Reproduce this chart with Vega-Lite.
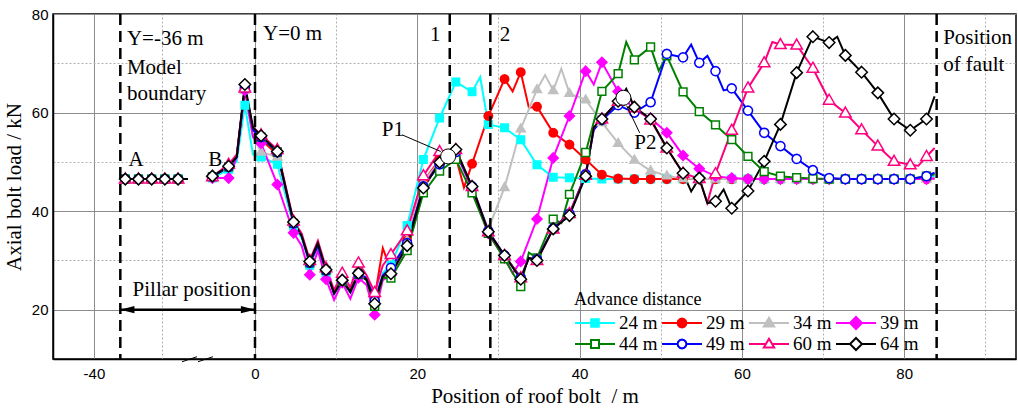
{
"$schema":"https://vega.github.io/schema/vega-lite/v6.json",
"width":963,"height":345,
"autosize":{"type":"none"},
"padding":{"left":53,"top":14,"right":2,"bottom":49},
"background":"white",
"config":{
 "view":{"stroke":"black","strokeWidth":1.5},
 "axis":{"labelFont":"Liberation Sans","labelFontSize":15,"labelColor":"black","titleFont":"Liberation Serif","titleFontSize":21,"titleFontWeight":"normal","titleColor":"black","domainColor":"black","domainWidth":1.5,"tickColor":"black","gridColor":"#8c8c8c","gridWidth":1,"gridOpacity":1},
 "text":{"font":"Liberation Serif","fontSize":21,"color":"black"}
},
"datasets":{"d":[
{"s":"24 m","x":-35.75,"y":46.5},{"s":"24 m","x":-35.25,"y":46.5},{"s":"24 m","x":-33.25,"y":46.5},{"s":"24 m","x":-31.25,"y":46.5},{"s":"24 m","x":-29.25,"y":46.5},{"s":"24 m","x":-27.25,"y":46.5},{"s":"24 m","x":-25.75,"y":46.5},
{"s":"24 m","x":-5.25,"y":46.7},{"s":"24 m","x":-3.25,"y":48.5},{"s":"24 m","x":-2.25,"y":50},{"s":"24 m","x":-1.25,"y":61.5},{"s":"24 m","x":-0.25,"y":51.5},{"s":"24 m","x":0.75,"y":51},{"s":"24 m","x":2.75,"y":49.5},{"s":"24 m","x":4.75,"y":37},{"s":"24 m","x":5.75,"y":34.5},{"s":"24 m","x":6.75,"y":29},{"s":"24 m","x":7.75,"y":33},{"s":"24 m","x":8.75,"y":27.5},{"s":"24 m","x":9.75,"y":23.5},{"s":"24 m","x":10.75,"y":26},{"s":"24 m","x":11.75,"y":24},{"s":"24 m","x":12.75,"y":27},{"s":"24 m","x":13.75,"y":26},{"s":"24 m","x":14.75,"y":21.5},{"s":"24 m","x":15.75,"y":27.5},{"s":"24 m","x":16.75,"y":29},{"s":"24 m","x":18.75,"y":37.1},{"s":"24 m","x":20.75,"y":50.5},{"s":"24 m","x":22.75,"y":58.9},{"s":"24 m","x":24.75,"y":66.2},{"s":"24 m","x":26.75,"y":64.2},{"s":"24 m","x":27.75,"y":67.2},{"s":"24 m","x":28.75,"y":57.6},{"s":"24 m","x":30.75,"y":56.9},{"s":"24 m","x":32.75,"y":54.5},{"s":"24 m","x":34.75,"y":49.4},{"s":"24 m","x":36.75,"y":46.9},{"s":"24 m","x":38.75,"y":46.8},{"s":"24 m","x":40.75,"y":46.6},{"s":"24 m","x":42.75,"y":46.5},{"s":"24 m","x":44.75,"y":46.5},{"s":"24 m","x":46.75,"y":46.5},{"s":"24 m","x":48.75,"y":46.5},{"s":"24 m","x":50.75,"y":46.5},{"s":"24 m","x":52.75,"y":46.5},{"s":"24 m","x":54.75,"y":46.5},{"s":"24 m","x":56.75,"y":46.5},{"s":"24 m","x":58.75,"y":46.5},{"s":"24 m","x":60.75,"y":46.5},{"s":"24 m","x":62.75,"y":46.5},{"s":"24 m","x":64.75,"y":46.5},{"s":"24 m","x":66.75,"y":46.5},{"s":"24 m","x":68.75,"y":46.5},{"s":"24 m","x":70.75,"y":46.5},{"s":"24 m","x":72.75,"y":46.5},{"s":"24 m","x":74.75,"y":46.5},{"s":"24 m","x":76.75,"y":46.5},{"s":"24 m","x":78.75,"y":46.5},{"s":"24 m","x":80.75,"y":46.5},{"s":"24 m","x":82.75,"y":46.9},{"s":"24 m","x":83.75,"y":47.2},
{"s":"29 m","x":-35.75,"y":46.5},{"s":"29 m","x":-35.25,"y":46.5},{"s":"29 m","x":-33.25,"y":46.5},{"s":"29 m","x":-31.25,"y":46.5},{"s":"29 m","x":-29.25,"y":46.5},{"s":"29 m","x":-27.25,"y":46.5},{"s":"29 m","x":-25.75,"y":46.5},
{"s":"29 m","x":-5.25,"y":47},{"s":"29 m","x":-3.25,"y":49},{"s":"29 m","x":-2.25,"y":51},{"s":"29 m","x":-1.25,"y":65},{"s":"29 m","x":-0.25,"y":56.5},{"s":"29 m","x":0.75,"y":54.5},{"s":"29 m","x":2.75,"y":51.5},{"s":"29 m","x":4.75,"y":37.5},{"s":"29 m","x":5.75,"y":35},{"s":"29 m","x":6.75,"y":29.5},{"s":"29 m","x":7.75,"y":33.5},{"s":"29 m","x":8.75,"y":28},{"s":"29 m","x":9.75,"y":23.5},{"s":"29 m","x":10.75,"y":26.5},{"s":"29 m","x":11.75,"y":24},{"s":"29 m","x":12.75,"y":27.5},{"s":"29 m","x":13.75,"y":26},{"s":"29 m","x":14.75,"y":22.5},{"s":"29 m","x":15.75,"y":32.5},{"s":"29 m","x":16.75,"y":28},{"s":"29 m","x":18.75,"y":34},{"s":"29 m","x":20.75,"y":46},{"s":"29 m","x":22.75,"y":50.5},{"s":"29 m","x":24.75,"y":51},{"s":"29 m","x":25.75,"y":44.8},{"s":"29 m","x":26.75,"y":49.6},{"s":"29 m","x":28.75,"y":59.3},{"s":"29 m","x":30.75,"y":66.8},{"s":"29 m","x":31.75,"y":64.3},{"s":"29 m","x":32.75,"y":68.2},{"s":"29 m","x":33.75,"y":61},{"s":"29 m","x":34.75,"y":61.2},{"s":"29 m","x":36.75,"y":55.9},{"s":"29 m","x":38.75,"y":53.5},{"s":"29 m","x":40.75,"y":50.5},{"s":"29 m","x":42.75,"y":47.4},{"s":"29 m","x":44.75,"y":46.6},{"s":"29 m","x":46.75,"y":46.5},{"s":"29 m","x":48.75,"y":46.5},{"s":"29 m","x":50.75,"y":46.5},{"s":"29 m","x":52.75,"y":46.5},{"s":"29 m","x":54.75,"y":46.5},{"s":"29 m","x":56.75,"y":46.5},{"s":"29 m","x":58.75,"y":46.5},{"s":"29 m","x":60.75,"y":46.5},{"s":"29 m","x":62.75,"y":46.5},{"s":"29 m","x":64.75,"y":46.5},{"s":"29 m","x":66.75,"y":46.5},{"s":"29 m","x":68.75,"y":46.5},{"s":"29 m","x":70.75,"y":46.5},{"s":"29 m","x":72.75,"y":46.5},{"s":"29 m","x":74.75,"y":46.5},{"s":"29 m","x":76.75,"y":46.5},{"s":"29 m","x":78.75,"y":46.5},{"s":"29 m","x":80.75,"y":46.5},{"s":"29 m","x":82.75,"y":46.5},{"s":"29 m","x":83.75,"y":46.6},
{"s":"34 m","x":-35.75,"y":46.5},{"s":"34 m","x":-35.25,"y":46.5},{"s":"34 m","x":-33.25,"y":46.5},{"s":"34 m","x":-31.25,"y":46.5},{"s":"34 m","x":-29.25,"y":46.5},{"s":"34 m","x":-27.25,"y":46.5},{"s":"34 m","x":-25.75,"y":46.5},
{"s":"34 m","x":-5.25,"y":47},{"s":"34 m","x":-3.25,"y":49},{"s":"34 m","x":-2.25,"y":51},{"s":"34 m","x":-1.25,"y":64.5},{"s":"34 m","x":-0.25,"y":55},{"s":"34 m","x":0.75,"y":52},{"s":"34 m","x":2.75,"y":51},{"s":"34 m","x":4.75,"y":37.5},{"s":"34 m","x":5.75,"y":35},{"s":"34 m","x":6.75,"y":29.5},{"s":"34 m","x":7.75,"y":33},{"s":"34 m","x":8.75,"y":28},{"s":"34 m","x":9.75,"y":23.5},{"s":"34 m","x":10.75,"y":26},{"s":"34 m","x":11.75,"y":24},{"s":"34 m","x":12.75,"y":27.5},{"s":"34 m","x":13.75,"y":26},{"s":"34 m","x":14.75,"y":21.5},{"s":"34 m","x":15.75,"y":27},{"s":"34 m","x":16.75,"y":28},{"s":"34 m","x":18.75,"y":34},{"s":"34 m","x":20.75,"y":46},{"s":"34 m","x":22.75,"y":50},{"s":"34 m","x":24.75,"y":52},{"s":"34 m","x":26.75,"y":45},{"s":"34 m","x":28.75,"y":36.3},{"s":"34 m","x":30.75,"y":44.8},{"s":"34 m","x":32.75,"y":56.7},{"s":"34 m","x":34.75,"y":64.7},{"s":"34 m","x":35.75,"y":67.6},{"s":"34 m","x":36.75,"y":64.5},{"s":"34 m","x":37.75,"y":68.9},{"s":"34 m","x":38.75,"y":63.9},{"s":"34 m","x":40.75,"y":62.6},{"s":"34 m","x":42.75,"y":58},{"s":"34 m","x":44.75,"y":53.8},{"s":"34 m","x":46.75,"y":50.4},{"s":"34 m","x":48.75,"y":48.2},{"s":"34 m","x":50.75,"y":47.2},{"s":"34 m","x":52.75,"y":46.6},{"s":"34 m","x":54.75,"y":46.5},{"s":"34 m","x":56.75,"y":46.5},{"s":"34 m","x":58.75,"y":46.5},{"s":"34 m","x":60.75,"y":46.5},{"s":"34 m","x":62.75,"y":46.5},{"s":"34 m","x":64.75,"y":46.5},{"s":"34 m","x":66.75,"y":46.5},{"s":"34 m","x":68.75,"y":46.5},{"s":"34 m","x":70.75,"y":46.5},{"s":"34 m","x":72.75,"y":46.5},{"s":"34 m","x":74.75,"y":46.5},{"s":"34 m","x":76.75,"y":46.5},{"s":"34 m","x":78.75,"y":46.5},{"s":"34 m","x":80.75,"y":46.5},{"s":"34 m","x":82.75,"y":46.5},{"s":"34 m","x":83.75,"y":46.6},
{"s":"39 m","x":-35.75,"y":46.5},{"s":"39 m","x":-35.25,"y":46.5},{"s":"39 m","x":-33.25,"y":46.5},{"s":"39 m","x":-31.25,"y":46.5},{"s":"39 m","x":-29.25,"y":46.5},{"s":"39 m","x":-27.25,"y":46.5},{"s":"39 m","x":-25.75,"y":46.5},
{"s":"39 m","x":-5.25,"y":46.7},{"s":"39 m","x":-3.25,"y":46.7},{"s":"39 m","x":-2.25,"y":51},{"s":"39 m","x":-1.25,"y":64.5},{"s":"39 m","x":-0.25,"y":55},{"s":"39 m","x":0.75,"y":53.8},{"s":"39 m","x":2.75,"y":45.4},{"s":"39 m","x":4.75,"y":35.6},{"s":"39 m","x":5.75,"y":33},{"s":"39 m","x":6.75,"y":27.1},{"s":"39 m","x":7.75,"y":32},{"s":"39 m","x":8.75,"y":26.2},{"s":"39 m","x":9.75,"y":22},{"s":"39 m","x":10.75,"y":25.5},{"s":"39 m","x":11.75,"y":22.2},{"s":"39 m","x":12.75,"y":26.5},{"s":"39 m","x":13.75,"y":25},{"s":"39 m","x":14.75,"y":19},{"s":"39 m","x":15.75,"y":26},{"s":"39 m","x":16.75,"y":27},{"s":"39 m","x":18.75,"y":33},{"s":"39 m","x":20.75,"y":45},{"s":"39 m","x":22.75,"y":50},{"s":"39 m","x":24.75,"y":52},{"s":"39 m","x":26.75,"y":44.5},{"s":"39 m","x":28.75,"y":35.5},{"s":"39 m","x":30.75,"y":30.5},{"s":"39 m","x":31.75,"y":27.4},{"s":"39 m","x":32.75,"y":29.8},{"s":"39 m","x":34.75,"y":38.4},{"s":"39 m","x":36.75,"y":50.8},{"s":"39 m","x":38.75,"y":59.3},{"s":"39 m","x":40.75,"y":68.4},{"s":"39 m","x":41.75,"y":65.7},{"s":"39 m","x":42.75,"y":70.2},{"s":"39 m","x":44.75,"y":64.3},{"s":"39 m","x":46.75,"y":60.6},{"s":"39 m","x":48.75,"y":58.9},{"s":"39 m","x":50.75,"y":55.9},{"s":"39 m","x":52.75,"y":51.3},{"s":"39 m","x":54.75,"y":48.6},{"s":"39 m","x":56.75,"y":47.1},{"s":"39 m","x":58.75,"y":46.7},{"s":"39 m","x":60.75,"y":46.5},{"s":"39 m","x":62.75,"y":46.5},{"s":"39 m","x":64.75,"y":46.5},{"s":"39 m","x":66.75,"y":46.5},{"s":"39 m","x":68.75,"y":46.5},{"s":"39 m","x":70.75,"y":46.5},{"s":"39 m","x":72.75,"y":46.5},{"s":"39 m","x":74.75,"y":46.5},{"s":"39 m","x":76.75,"y":46.5},{"s":"39 m","x":78.75,"y":46.5},{"s":"39 m","x":80.75,"y":46.5},{"s":"39 m","x":82.75,"y":46.5},{"s":"39 m","x":83.75,"y":46.6},
{"s":"44 m","x":-35.75,"y":46.5},{"s":"44 m","x":-35.25,"y":46.5},{"s":"44 m","x":-33.25,"y":46.5},{"s":"44 m","x":-31.25,"y":46.5},{"s":"44 m","x":-29.25,"y":46.5},{"s":"44 m","x":-27.25,"y":46.5},{"s":"44 m","x":-25.75,"y":46.5},
{"s":"44 m","x":-5.25,"y":47},{"s":"44 m","x":-3.25,"y":49},{"s":"44 m","x":-2.25,"y":51},{"s":"44 m","x":-1.25,"y":65},{"s":"44 m","x":-0.25,"y":56.5},{"s":"44 m","x":0.75,"y":55},{"s":"44 m","x":2.75,"y":52},{"s":"44 m","x":4.75,"y":37.5},{"s":"44 m","x":5.75,"y":35},{"s":"44 m","x":6.75,"y":29.5},{"s":"44 m","x":7.75,"y":33},{"s":"44 m","x":8.75,"y":28},{"s":"44 m","x":9.75,"y":23.2},{"s":"44 m","x":10.75,"y":25.8},{"s":"44 m","x":11.75,"y":23.5},{"s":"44 m","x":12.75,"y":27.2},{"s":"44 m","x":13.75,"y":26},{"s":"44 m","x":14.75,"y":20.7},{"s":"44 m","x":15.75,"y":26.5},{"s":"44 m","x":16.75,"y":26.4},{"s":"44 m","x":18.75,"y":32},{"s":"44 m","x":20.75,"y":43.7},{"s":"44 m","x":22.75,"y":48.1},{"s":"44 m","x":24.75,"y":50.5},{"s":"44 m","x":26.75,"y":43.7},{"s":"44 m","x":28.75,"y":35.5},{"s":"44 m","x":30.75,"y":30.3},{"s":"44 m","x":32.75,"y":24.7},{"s":"44 m","x":33.75,"y":31.6},{"s":"44 m","x":34.75,"y":30.5},{"s":"44 m","x":36.75,"y":38.4},{"s":"44 m","x":37.75,"y":37.6},{"s":"44 m","x":38.75,"y":43.4},{"s":"44 m","x":40.75,"y":51.9},{"s":"44 m","x":42.75,"y":64.3},{"s":"44 m","x":44.75,"y":67.9},{"s":"44 m","x":45.75,"y":74.3},{"s":"44 m","x":46.75,"y":70.7},{"s":"44 m","x":48.75,"y":73.3},{"s":"44 m","x":49.75,"y":68.5},{"s":"44 m","x":50.75,"y":71.5},{"s":"44 m","x":52.75,"y":64.2},{"s":"44 m","x":54.75,"y":60.2},{"s":"44 m","x":56.75,"y":57.5},{"s":"44 m","x":58.75,"y":54.5},{"s":"44 m","x":60.75,"y":51.1},{"s":"44 m","x":62.75,"y":48},{"s":"44 m","x":64.75,"y":47.1},{"s":"44 m","x":66.75,"y":46.8},{"s":"44 m","x":68.75,"y":46.6},{"s":"44 m","x":70.75,"y":46.5},{"s":"44 m","x":72.75,"y":46.5},{"s":"44 m","x":74.75,"y":46.5},{"s":"44 m","x":76.75,"y":46.5},{"s":"44 m","x":78.75,"y":46.5},{"s":"44 m","x":80.75,"y":46.5},{"s":"44 m","x":82.75,"y":47.1},{"s":"44 m","x":83.75,"y":47.5},
{"s":"49 m","x":-35.75,"y":46.5},{"s":"49 m","x":-35.25,"y":46.5},{"s":"49 m","x":-33.25,"y":46.5},{"s":"49 m","x":-31.25,"y":46.5},{"s":"49 m","x":-29.25,"y":46.5},{"s":"49 m","x":-27.25,"y":46.5},{"s":"49 m","x":-25.75,"y":46.5},
{"s":"49 m","x":-5.25,"y":47},{"s":"49 m","x":-3.25,"y":49},{"s":"49 m","x":-2.25,"y":51},{"s":"49 m","x":-1.25,"y":65},{"s":"49 m","x":-0.25,"y":56.5},{"s":"49 m","x":0.75,"y":55},{"s":"49 m","x":2.75,"y":52},{"s":"49 m","x":4.75,"y":37.5},{"s":"49 m","x":5.75,"y":35},{"s":"49 m","x":6.75,"y":29.5},{"s":"49 m","x":7.75,"y":33},{"s":"49 m","x":8.75,"y":28},{"s":"49 m","x":9.75,"y":23.3},{"s":"49 m","x":10.75,"y":26},{"s":"49 m","x":11.75,"y":23.6},{"s":"49 m","x":12.75,"y":27.3},{"s":"49 m","x":13.75,"y":26.5},{"s":"49 m","x":14.75,"y":21.8},{"s":"49 m","x":15.75,"y":27},{"s":"49 m","x":16.75,"y":28.5},{"s":"49 m","x":18.75,"y":33.5},{"s":"49 m","x":20.75,"y":45},{"s":"49 m","x":22.75,"y":49.5},{"s":"49 m","x":24.75,"y":52},{"s":"49 m","x":26.75,"y":45},{"s":"49 m","x":28.75,"y":36},{"s":"49 m","x":30.75,"y":31},{"s":"49 m","x":32.75,"y":26.5},{"s":"49 m","x":33.75,"y":30.5},{"s":"49 m","x":34.75,"y":30.2},{"s":"49 m","x":36.75,"y":36.5},{"s":"49 m","x":38.75,"y":39.5},{"s":"49 m","x":40.75,"y":47.5},{"s":"49 m","x":41.75,"y":56.5},{"s":"49 m","x":42.75,"y":58.5},{"s":"49 m","x":44.75,"y":61.5},{"s":"49 m","x":46.75,"y":60},{"s":"49 m","x":48.75,"y":62.1},{"s":"49 m","x":50.75,"y":71.9},{"s":"49 m","x":52.75,"y":71.2},{"s":"49 m","x":53.75,"y":73.8},{"s":"49 m","x":54.75,"y":70.1},{"s":"49 m","x":55.75,"y":71.5},{"s":"49 m","x":56.75,"y":68.4},{"s":"49 m","x":57.75,"y":64.5},{"s":"49 m","x":58.75,"y":64.9},{"s":"49 m","x":60.75,"y":60.4},{"s":"49 m","x":62.75,"y":55.9},{"s":"49 m","x":64.75,"y":53.2},{"s":"49 m","x":66.75,"y":50.6},{"s":"49 m","x":68.75,"y":48.3},{"s":"49 m","x":70.75,"y":46.7},{"s":"49 m","x":72.75,"y":46.5},{"s":"49 m","x":74.75,"y":46.5},{"s":"49 m","x":76.75,"y":46.5},{"s":"49 m","x":78.75,"y":46.5},{"s":"49 m","x":80.75,"y":46.5},{"s":"49 m","x":82.75,"y":47.1},{"s":"49 m","x":83.75,"y":47.8},
{"s":"60 m","x":-35.75,"y":46.5},{"s":"60 m","x":-35.25,"y":46.5},{"s":"60 m","x":-33.25,"y":46.5},{"s":"60 m","x":-31.25,"y":46.5},{"s":"60 m","x":-29.25,"y":46.5},{"s":"60 m","x":-27.25,"y":46.5},{"s":"60 m","x":-25.75,"y":46.5},
{"s":"60 m","x":-5.25,"y":47},{"s":"60 m","x":-3.25,"y":49.5},{"s":"60 m","x":-2.25,"y":51.5},{"s":"60 m","x":-1.25,"y":65},{"s":"60 m","x":-0.25,"y":57},{"s":"60 m","x":0.75,"y":55.5},{"s":"60 m","x":2.75,"y":52.5},{"s":"60 m","x":4.75,"y":38},{"s":"60 m","x":5.75,"y":35.5},{"s":"60 m","x":6.75,"y":30},{"s":"60 m","x":7.75,"y":34},{"s":"60 m","x":8.75,"y":28.5},{"s":"60 m","x":9.75,"y":24},{"s":"60 m","x":10.75,"y":27.4},{"s":"60 m","x":11.75,"y":24.5},{"s":"60 m","x":12.75,"y":29.5},{"s":"60 m","x":13.75,"y":27},{"s":"60 m","x":14.75,"y":23.5},{"s":"60 m","x":15.75,"y":29},{"s":"60 m","x":16.75,"y":31.2},{"s":"60 m","x":18.75,"y":36},{"s":"60 m","x":20.75,"y":47.2},{"s":"60 m","x":22.75,"y":52.1},{"s":"60 m","x":24.75,"y":52.5},{"s":"60 m","x":26.75,"y":45},{"s":"60 m","x":28.75,"y":35.8},{"s":"60 m","x":30.75,"y":31},{"s":"60 m","x":32.75,"y":26.5},{"s":"60 m","x":33.75,"y":30.5},{"s":"60 m","x":34.75,"y":30},{"s":"60 m","x":36.75,"y":36.4},{"s":"60 m","x":38.75,"y":39.5},{"s":"60 m","x":40.75,"y":47.3},{"s":"60 m","x":41.75,"y":57},{"s":"60 m","x":42.75,"y":58.7},{"s":"60 m","x":44.75,"y":62.3},{"s":"60 m","x":45.75,"y":64.5},{"s":"60 m","x":46.75,"y":61},{"s":"60 m","x":48.75,"y":58.5},{"s":"60 m","x":50.75,"y":52.8},{"s":"60 m","x":52.75,"y":47.7},{"s":"60 m","x":54.75,"y":46.6},{"s":"60 m","x":55.75,"y":41.7},{"s":"60 m","x":56.75,"y":47.6},{"s":"60 m","x":58.75,"y":56.4},{"s":"60 m","x":60.75,"y":65},{"s":"60 m","x":62.75,"y":70.1},{"s":"60 m","x":63.75,"y":74.3},{"s":"60 m","x":64.75,"y":73.8},{"s":"60 m","x":66.75,"y":73.7},{"s":"60 m","x":68.75,"y":69},{"s":"60 m","x":70.75,"y":62.5},{"s":"60 m","x":72.75,"y":59.9},{"s":"60 m","x":74.75,"y":56.5},{"s":"60 m","x":76.75,"y":53.2},{"s":"60 m","x":78.75,"y":50.1},{"s":"60 m","x":80.75,"y":49.4},{"s":"60 m","x":81.75,"y":49.2},{"s":"60 m","x":82.75,"y":51.1},{"s":"60 m","x":83.75,"y":52.8},
{"s":"64 m","x":-35.75,"y":46.5},{"s":"64 m","x":-35.25,"y":46.5},{"s":"64 m","x":-33.25,"y":46.5},{"s":"64 m","x":-31.25,"y":46.5},{"s":"64 m","x":-29.25,"y":46.5},{"s":"64 m","x":-27.25,"y":46.5},{"s":"64 m","x":-25.75,"y":46.5},
{"s":"64 m","x":-5.25,"y":47.1},{"s":"64 m","x":-3.25,"y":49.1},{"s":"64 m","x":-2.25,"y":51},{"s":"64 m","x":-1.25,"y":65.7},{"s":"64 m","x":-0.25,"y":57},{"s":"64 m","x":0.75,"y":55.3},{"s":"64 m","x":2.75,"y":52.1},{"s":"64 m","x":4.75,"y":37.8},{"s":"64 m","x":5.75,"y":35},{"s":"64 m","x":6.75,"y":29.8},{"s":"64 m","x":7.75,"y":33.5},{"s":"64 m","x":8.75,"y":28.1},{"s":"64 m","x":9.75,"y":23.4},{"s":"64 m","x":10.75,"y":26},{"s":"64 m","x":11.75,"y":23.7},{"s":"64 m","x":12.75,"y":27.4},{"s":"64 m","x":13.75,"y":26.1},{"s":"64 m","x":14.75,"y":21.2},{"s":"64 m","x":15.75,"y":26.8},{"s":"64 m","x":16.75,"y":27.3},{"s":"64 m","x":18.75,"y":33},{"s":"64 m","x":20.75,"y":44.7},{"s":"64 m","x":22.75,"y":49.9},{"s":"64 m","x":24.75,"y":52.5},{"s":"64 m","x":26.75,"y":45},{"s":"64 m","x":28.75,"y":35.8},{"s":"64 m","x":30.75,"y":31},{"s":"64 m","x":32.75,"y":26.2},{"s":"64 m","x":33.75,"y":30.5},{"s":"64 m","x":34.75,"y":30},{"s":"64 m","x":36.75,"y":36.4},{"s":"64 m","x":38.75,"y":39.1},{"s":"64 m","x":40.75,"y":47.1},{"s":"64 m","x":41.75,"y":57},{"s":"64 m","x":42.75,"y":58.7},{"s":"64 m","x":44.75,"y":62.3},{"s":"64 m","x":45.75,"y":64.8},{"s":"64 m","x":46.75,"y":61.1},{"s":"64 m","x":48.75,"y":58.7},{"s":"64 m","x":50.75,"y":52.8},{"s":"64 m","x":52.75,"y":47.7},{"s":"64 m","x":53.75,"y":44},{"s":"64 m","x":54.75,"y":46.7},{"s":"64 m","x":55.75,"y":41.6},{"s":"64 m","x":56.75,"y":42},{"s":"64 m","x":57.75,"y":44.4},{"s":"64 m","x":58.75,"y":40.6},{"s":"64 m","x":60.75,"y":44.1},{"s":"64 m","x":62.75,"y":50.1},{"s":"64 m","x":64.75,"y":57.6},{"s":"64 m","x":66.75,"y":68.1},{"s":"64 m","x":68.75,"y":75.4},{"s":"64 m","x":70.75,"y":74.2},{"s":"64 m","x":71.75,"y":75.4},{"s":"64 m","x":72.75,"y":71.6},{"s":"64 m","x":74.75,"y":68.2},{"s":"64 m","x":76.75,"y":64},{"s":"64 m","x":78.75,"y":58.7},{"s":"64 m","x":80.75,"y":56.4},{"s":"64 m","x":82.75,"y":58.7},{"s":"64 m","x":83.75,"y":63.3}
]},
"layer":[
{"data":{"name":"d"},"transform":[{"filter":"datum.x < -20"}],
 "mark":{"type":"line","strokeWidth":2},
 "encoding":{
  "x":{"field":"x","type":"quantitative","scale":{"domain":[-46.2,-25.5,-6,93.78],"range":[0,136.62,153.31,963],"nice":false,"zero":false},
   "axis":{"orient":"bottom","values":[-40,0,20,40,60,80],"labelExpr":"'' + datum.value","title":"Position of roof bolt\u00a0 / m","grid":true,"ticks":false,"labelPadding":7,"titlePadding":4}},
  "y":{"field":"y","type":"quantitative","scale":{"domain":[10,80],"nice":false,"zero":false},
   "axis":{"orient":"left","values":[20,40,60,80],"title":"Axial bolt load / kN","grid":true,"ticks":false,"labelPadding":5,"titlePadding":7}},
  "stroke":{"field":"s","type":"nominal",
   "scale":{"domain":["24 m","29 m","34 m","39 m","44 m","49 m","60 m","64 m"],"range":["#00ffff","#ff0000","#c0c0c0","#ff00ff","#008000","#0000ff","#ff0080","#000000"]},
   "legend":{"orient":"none","legendX":521,"legendY":277,"direction":"horizontal","columns":4,"padding":0,
    "title":"Advance distance","titleFont":"Liberation Serif","titleFontSize":18,"titleFontWeight":"normal","titleColor":"black","titlePadding":4,
    "labelFont":"Liberation Serif","labelFontSize":19,"labelColor":"black","labelOffset":3,
    "symbolSize":1600,"symbolStrokeWidth":2,"clipHeight":20,"columnPadding":3,"rowPadding":1,
    "encoding":{"symbols":{
     "shape":{"value":{"expr":"datum.value==='24 m'?'M-1,0H1M-0.19,-0.19H0.19V0.19H-0.19Z':datum.value==='29 m'?'M-1,0H1M0.22,0L0.19,0.11L0.11,0.19L0,0.22L-0.11,0.19L-0.19,0.11L-0.22,0L-0.19,-0.11L-0.11,-0.19L0,-0.22L0.11,-0.19L0.19,-0.11Z':datum.value==='34 m'?'M-1,0H1M0,-0.26L0.26,0.18L-0.26,0.18Z':datum.value==='39 m'?'M-1,0H1M0,-0.3L0.3,0L0,0.3L-0.3,0Z':datum.value==='44 m'?'M-1,0H-0.2M0.2,0H1M-0.2,-0.2H0.2V0.2H-0.2Z':datum.value==='49 m'?'M-1,0H-0.22M0.22,0H1M0.22,0L0.19,0.11L0.11,0.19L0,0.22L-0.11,0.19L-0.19,0.11L-0.22,0L-0.19,-0.11L-0.11,-0.19L0,-0.22L0.11,-0.19L0.19,-0.11Z':datum.value==='60 m'?'M-1,0H-0.16M0.16,0H1M0,-0.26L0.26,0.18L-0.26,0.18Z':'M-1,0H-0.3M0.3,0H1M0,-0.3L0.3,0L0,0.3L-0.3,0Z'"}},
     "fill":{"value":{"expr":"datum.value==='24 m'?'#00ffff':datum.value==='29 m'?'#ff0000':datum.value==='34 m'?'#c0c0c0':datum.value==='39 m'?'#ff00ff':'#ffffff'"}},
     "size":{"value":1600},
     "strokeWidth":{"value":2},"opacity":{"value":1}}}}}
 }},
{"data":{"name":"d"},"transform":[{"filter":"datum.x > -20"}],
 "mark":{"type":"line","strokeWidth":2},
 "encoding":{
  "x":{"field":"x","type":"quantitative","axis":null},
  "y":{"field":"y","type":"quantitative","axis":null},
  "stroke":{"field":"s","type":"nominal"}
 }},
{"data":{"name":"d"},"transform":[{"filter":"abs((datum.x - 0.75) % 2) < 0.01"}],
 "mark":{"type":"point","strokeWidth":1.5,"opacity":1,"fillOpacity":1,"size":100},
 "encoding":{
  "x":{"field":"x","type":"quantitative","axis":null},
  "y":{"field":"y","type":"quantitative","axis":null},
  "stroke":{"field":"s","type":"nominal"},
  "shape":{"field":"s","type":"nominal","scale":{"domain":["64 m","60 m","49 m","44 m","39 m","34 m","29 m","24 m"],"range":[
    "M0,-1.15L1.15,0L0,1.15L-1.15,0Z",
    "M0,-1.2L1.15,0.8L-1.15,0.8Z",
    "M0.92,0L0.797,0.46L0.46,0.797L0,0.92L-0.46,0.797L-0.797,0.46L-0.92,0L-0.797,-0.46L-0.46,-0.797L0,-0.92L0.46,-0.797L0.797,-0.46Z",
    "M-0.78,-0.78H0.78V0.78H-0.78Z",
    "M0,-1L1,0L0,1L-1,0Z",
    "M0,-0.95L0.9,0.6L-0.9,0.6Z",
    "M0.85,0L0.736,0.425L0.425,0.736L0,0.85L-0.425,0.736L-0.736,0.425L-0.85,0L-0.736,-0.425L-0.425,-0.736L0,-0.85L0.425,-0.736L0.736,-0.425Z",
    "M-0.75,-0.75H0.75V0.75H-0.75Z"]},"legend":null},
  "fill":{"field":"s","type":"nominal","scale":{"domain":["64 m","60 m","49 m","44 m","39 m","34 m","29 m","24 m"],"range":["#ffffff","#ffffff","#ffffff","#ffffff","#ff00ff","#c0c0c0","#ff0000","#00ffff"]},"legend":null}
 }},
{"data":{"values":[{"x":-36},{"x":0},{"x":24},{"x":29},{"x":84}]},
 "mark":{"type":"rule","color":"black","strokeWidth":2.5,"strokeDash":[11,6]},
 "encoding":{
  "x":{"field":"x","type":"quantitative","axis":{"orient":"bottom","values":[-29.7,10,30,50,70,90],"grid":true,"gridDash":[2,2],"gridColor":"#b0b0b0","labels":false,"ticks":false,"domain":false,"title":null}}
 }},
{"data":{"values":[{"x":-36,"x2":0,"y":20}]},
 "mark":{"type":"rule","color":"black","strokeWidth":2.5},
 "encoding":{
  "x":{"field":"x","type":"quantitative","axis":null},
  "x2":{"field":"x2"},
  "y":{"field":"y","type":"quantitative","axis":{"orient":"left","values":[30,50,70],"grid":true,"gridDash":[2,2],"gridColor":"#b0b0b0","labels":false,"ticks":false,"domain":false,"title":null}}
 }},
{"data":{"values":[{"x":-36,"y":20}]},
 "mark":{"type":"point","shape":"M0,0L4.7,-1.2L4.7,1.2Z","size":36,"filled":true,"color":"black","opacity":1},
 "encoding":{"x":{"field":"x","type":"quantitative","axis":null},"y":{"field":"y","type":"quantitative","axis":null}}},
{"data":{"values":[{"x":0,"y":20}]},
 "mark":{"type":"point","shape":"M0,0L-4.7,-1.2L-4.7,1.2Z","size":36,"filled":true,"color":"black","opacity":1},
 "encoding":{"x":{"field":"x","type":"quantitative","axis":null},"y":{"field":"y","type":"quantitative","axis":null}}},
{"data":{"values":[{"x":-26.65,"y":9.44,"x2":-16.9,"y2":10.46},{"x":-15.7,"y":9.44,"x2":-5.18,"y2":10.46}]},
 "mark":{"type":"rule","color":"black","strokeWidth":1},
 "encoding":{"x":{"field":"x","type":"quantitative","axis":null},"y":{"field":"y","type":"quantitative","axis":null},"x2":{"field":"x2"},"y2":{"field":"y2"}}},
{"data":{"values":[{"x":18.1,"y":55.5,"x2":22.9,"y2":52.1},{"x":45.8,"y":61.4,"x2":47.4,"y2":55.9}]},
 "mark":{"type":"rule","color":"black","strokeWidth":1},
 "encoding":{"x":{"field":"x","type":"quantitative","axis":null},"y":{"field":"y","type":"quantitative","axis":null},"x2":{"field":"x2"},"y2":{"field":"y2"}}},
{"data":{"values":[{"x":23.8,"y":51.1},{"x":45.4,"y":63.0}]},
 "mark":{"type":"point","shape":"circle","size":225,"filled":true,"fill":"white","stroke":"black","strokeWidth":1,"opacity":1},
 "encoding":{"x":{"field":"x","type":"quantitative","axis":null},"y":{"field":"y","type":"quantitative","axis":null}}},
{"data":{"values":[{"t":"Y=-36 m","x":-35.0,"y":73.8},{"t":"Model","x":-35.0,"y":67.9},{"t":"boundary","x":-35.0,"y":62.6},{"t":"Y=0 m","x":1.0,"y":74.7},{"t":"Position","x":84.8,"y":74.0},{"t":"of fault","x":84.8,"y":68.4}]},
 "mark":{"type":"text","align":"left","baseline":"alphabetic","font":"Liberation Serif","fontSize":21,"color":"black"},
 "encoding":{"x":{"field":"x","type":"quantitative","axis":null},"y":{"field":"y","type":"quantitative","axis":null},"text":{"field":"t"}}},
{"data":{"values":[{"t":"A","x":-33.6,"y":49.1},{"t":"B","x":-4.9,"y":49.1},{"t":"1","x":22.2,"y":74.5},{"t":"2","x":30.8,"y":74.5},{"t":"P1","x":17.0,"y":55.3},{"t":"P2","x":48.1,"y":52.6},{"t":"Pillar position","x":-23,"y":22.7}]},
 "mark":{"type":"text","align":"center","baseline":"alphabetic","font":"Liberation Serif","fontSize":21,"color":"black"},
 "encoding":{"x":{"field":"x","type":"quantitative","axis":null},"y":{"field":"y","type":"quantitative","axis":null},"text":{"field":"t"}}}
],
"resolve":{"axis":{"x":"independent","y":"independent"}}
}
